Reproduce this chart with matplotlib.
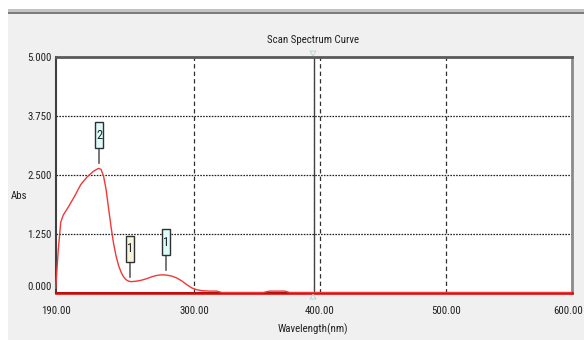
import matplotlib
matplotlib.use("Agg")
import matplotlib.pyplot as plt
from matplotlib.patches import Rectangle, Polygon
from matplotlib.lines import Line2D
from matplotlib.transforms import Affine2D, ScaledTranslation
from matplotlib import font_manager

# --- data -------------------------------------------------------------
wavelength = [190, 192, 194, 196, 200, 205, 210, 215, 220, 224, 226, 228,
              230, 232, 234, 236, 238, 240, 242, 244, 246, 248, 250, 254,
              258, 262, 266, 270, 274, 278, 282, 286, 290, 294, 298, 302,
              306, 312, 318, 322, 355, 360, 372, 376, 450, 600]
absorbance = [0.10, 0.90, 1.50, 1.65, 1.82, 2.05, 2.30, 2.46, 2.58, 2.64,
              2.62, 2.48, 2.20, 1.80, 1.40, 1.05, 0.78, 0.58, 0.44, 0.34,
              0.28, 0.25, 0.24, 0.25, 0.27, 0.30, 0.34, 0.37, 0.385, 0.38,
              0.36, 0.32, 0.26, 0.18, 0.11, 0.07, 0.05, 0.04, 0.04, 0.01,
              0.01, 0.04, 0.04, 0.01, 0.01, 0.01]

# picked peaks / valleys: wavelength, absorbance, label, box colour
pick_wl = [224.6, 249.4, 278.0]
pick_abs = [2.64, 0.24, 0.38]
pick_text = ["2", "1", "1"]
pick_color = ["#dcfcfc", "#f6f4dc", "#dcfcfc"]

y_ticks = [0.0, 1.25, 2.5, 3.75, 5.0]
y_tick_labels = ["0.000", "1.250", "2.500", "3.750", "5.000"]
x_ticks = [190, 300, 400, 500, 600]
x_tick_labels = ["190.00", "300.00", "400.00", "500.00", "600.00"]

# --- fonts: prefer a condensed face -------------------------------------
names = {f.name for f in font_manager.fontManager.ttflist}
family, stretch = "DejaVu Sans", "normal"
for cand in ["Liberation Sans Narrow", "Roboto Condensed", "Open Sans Condensed",
             "DejaVu Sans Condensed", "Noto Sans Condensed"]:
    if cand in names:
        family = cand
        break
else:
    for f in font_manager.fontManager.ttflist:
        if f.name == "DejaVu Sans" and "Condensed" in f.fname and "Bold" not in f.fname \
                and "Oblique" not in f.fname:
            stretch = "condensed"
            break
plt.rcParams["font.family"] = [family, "DejaVu Sans"]
plt.rcParams["font.stretch"] = stretch
FS = 7.8

W, H = 584, 340
fig = plt.figure(figsize=(W / 100, H / 100), dpi=100)
fig.patch.set_facecolor("white")

# window panel and its top border
fig.patches.append(Rectangle((8 / W, 0), 1 - 8 / W, 1 - 9 / H,
                             transform=fig.transFigure, facecolor="#f0f0f0",
                             edgecolor="none", zorder=-10))
fig.patches.append(Rectangle((8 / W, 1 - 12 / H), 1 - 8 / W, 3 / H,
                             transform=fig.transFigure, facecolor="#c4c4c4",
                             edgecolor="none", zorder=-9))
fig.patches.append(Rectangle((8 / W, 1 - 14 / H), 1 - 8 / W, 2 / H,
                             transform=fig.transFigure, facecolor="#7c7c7c",
                             edgecolor="none", zorder=-9))

left, right, top, bottom = 55.7, 571.5, 57.0, 293.0
ax = fig.add_axes([left / W, 1 - bottom / H, (right - left) / W, (bottom - top) / H])
ax.set_facecolor("white")
ax.set_xlim(190, 600)
ax.set_ylim(0, 5)

# grid
for xv in x_ticks[1:-1]:
    ax.axvline(xv, color="#303030", lw=0.9, ls=(0, (3.5, 2.5)), zorder=1)
for yv in y_ticks[1:-1]:
    ax.axhline(yv, color="#202020", lw=0.9, ls=(0, (1.3, 1.0)), zorder=1)

# cursor line in the middle of the plot area, with its end markers
ax.plot([0.5, 0.5], [0, 1], transform=ax.transAxes, color="#404040", lw=1.0,
        zorder=2)
fig.patches.append(Polygon([[(313 - 3) / W, 1 - 51 / H], [(313 + 3) / W, 1 - 51 / H],
                            [313 / W, 1 - 56 / H]], closed=True,
                           transform=fig.transFigure, facecolor="#e4f6f6",
                           edgecolor="#b0c8c8", lw=0.5, zorder=5))
fig.patches.append(Polygon([[(313 - 3) / W, 1 - 299 / H], [(313 + 3) / W, 1 - 299 / H],
                            [313 / W, 1 - 294 / H]], closed=True,
                           transform=fig.transFigure, facecolor="#e4f6f6",
                           edgecolor="#b0c8c8", lw=0.5, zorder=5))

# spectrum
ax.plot(wavelength, absorbance, color="#f03838", lw=1.0, zorder=5,
        clip_on=False, solid_joinstyle="round")
ax.plot([wavelength[0], wavelength[-1]], [0, 0], color="#e00000", lw=1.8,
        zorder=4, clip_on=False)

# frame
for side, col, lw in [("top", "#5a5a5a", 2.0), ("left", "#404040", 1.5),
                      ("bottom", "#404040", 1.5), ("right", "#8a8a8a", 2.0)]:
    ax.spines[side].set_color(col)
    ax.spines[side].set_linewidth(lw)

ax.set_xticks(x_ticks)
ax.set_xticklabels(x_tick_labels)
ax.set_yticks(y_ticks)
ax.set_yticklabels(y_tick_labels)
ax.tick_params(length=0, labelsize=FS, colors="#202020")
ax.tick_params(axis="y", pad=3)
ax.tick_params(axis="x", pad=9)
lab0 = ax.get_yticklabels()[0]
lab0.set_transform(lab0.get_transform() + Affine2D().translate(0, 7))
# keep the last wavelength label inside the window
labn = ax.get_xticklabels()[-1]
labn.set_horizontalalignment("right")
labn.set_transform(labn.get_transform() + Affine2D().translate(12, 0))

fig.text(313 / W, 1 - 40 / H, "Scan Spectrum Curve", ha="center", va="center",
         fontsize=FS, color="#202020")
fig.text(313 / W, 1 - 329 / H, "Wavelength(nm)", ha="center", va="center",
         fontsize=FS, color="#202020")
fig.text(11 / W, 1 - 196 / H, "Abs", ha="left", va="center",
         fontsize=FS, color="#202020")

# peak markers: stem plus a small labelled box above each picked point
for wl, a, txt, col in zip(pick_wl, pick_abs, pick_text, pick_color):
    base = ScaledTranslation(wl, a, ax.transData)
    ax.add_line(Line2D([0, 0], [5, 20], color="#606060", lw=1.2,
                       transform=Affine2D() + base, clip_on=False, zorder=6))
    ax.add_patch(Rectangle((-4, 20), 8, 26, facecolor=col, edgecolor="#303030",
                           lw=1.0, transform=Affine2D() + base, clip_on=False,
                           zorder=7))
    ax.text(0, 33, txt, ha="center", va="center", fontsize=9,
            color="#202020", transform=Affine2D() + base, zorder=8,
            clip_on=False)

fig.savefig("out.png", dpi=100, facecolor=fig.get_facecolor())
